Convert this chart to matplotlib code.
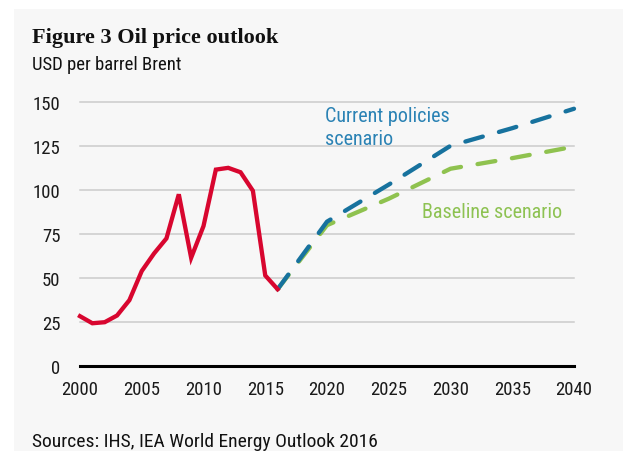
import matplotlib
matplotlib.use("Agg")
import logging
logging.getLogger("matplotlib.font_manager").setLevel(logging.ERROR)
import matplotlib.pyplot as plt
from matplotlib.patches import Rectangle

# Data
hist_years = [2000, 2001, 2002, 2003, 2004, 2005, 2006, 2007, 2008, 2009,
              2010, 2011, 2012, 2013, 2014, 2015, 2016]
hist_price = [28.4, 24.4, 25.0, 28.8, 37.5, 54.0, 64.0, 72.5, 97.5, 61.5,
              79.5, 111.5, 112.5, 110.0, 99.5, 51.5, 43.7]
scen_years = [2016, 2020, 2025, 2030, 2035, 2040]
current_policies = [43.7, 82, 103, 125, 135, 146]
baseline = [43.7, 80, 95, 112, 118, 124.5]
x_ticks = [2000, 2005, 2010, 2015, 2020, 2025, 2030, 2035, 2040]
y_ticks = [0, 25, 50, 75, 100, 125, 150]

W, H = 623, 452
fig = plt.figure(figsize=(W / 100, H / 100), dpi=100, facecolor="white")
fig.patches.append(Rectangle((14 / W, 0), 1 - 14 / W, 1 - 10 / H, transform=fig.transFigure,
                             facecolor="#f7f7f7", edgecolor="none", zorder=-10))

sans = ["Liberation Sans Narrow", "Arial Narrow", "Roboto Condensed", "Archivo Narrow", "DejaVu Sans"]
serif = ["Liberation Serif", "DejaVu Serif"]

ax = fig.add_axes([80 / W, 1 - 367.3 / H, (574 - 80) / W, (367.3 - 102.7) / H])
ax.set_facecolor("none")
ax.set_xlim(2000, 2040)
ax.set_ylim(0, 150)
for s in ax.spines.values():
    s.set_visible(False)
for y in y_ticks[1:]:
    ax.axhline(y, color="#cbcbcb", lw=1.1, zorder=1, clip_on=False)
ax.axhline(0, color="black", lw=2.2, zorder=2, clip_on=False)

red = "#d8062f"
blue = "#17729e"
green = "#8fc24f"
lw = 3.1
ax.plot(hist_years, hist_price, color=red, lw=lw, zorder=4, clip_on=False,
        solid_joinstyle="miter")
lb, = ax.plot(scen_years, baseline, color=green, lw=lw, zorder=3, clip_on=False,
              dash_capstyle="round")
lb.set_dashes([4.2, 3.9])
lc, = ax.plot(scen_years, current_policies, color=blue, lw=lw, zorder=3, clip_on=False,
              dash_capstyle="round")
lc.set_dashes([4.2, 3.9])

ax.set_xticks(x_ticks)
ax.set_yticks(y_ticks)
ax.set_xticklabels([str(t) for t in x_ticks], family=sans, fontsize=13.5)
ax.set_yticklabels([str(t) for t in y_ticks], family=sans, fontsize=13.5)
ax.tick_params(axis="both", length=0, colors="#1a1a1a")
ax.tick_params(axis="y", pad=14)
ax.tick_params(axis="x", pad=10)

ax.text(2019.84, 139.2, "Current policies", color="#2a82b4", family=sans,
        fontsize=14.5, va="baseline", ha="left")
ax.text(2019.84, 126.0, "scenario", color="#2a82b4", family=sans,
        fontsize=14.5, va="baseline", ha="left")
ax.text(2027.7, 84.5, "Baseline scenario", color="#8dc252", family=sans,
        fontsize=14.5, va="baseline", ha="left")

fig.text(32 / W, 1 - 43.3 / H, "Figure 3 Oil price outlook", family=serif,
         fontweight="bold", fontsize=16, va="baseline", ha="left", color="#111111")
fig.text(32 / W, 1 - 70 / H, "USD per barrel Brent", family=sans,
         fontsize=13.5, va="baseline", ha="left", color="#111111")
fig.text(32 / W, 1 - 446.7 / H, "Sources: IHS, IEA World Energy Outlook 2016", family=sans,
         fontsize=14, va="baseline", ha="left", color="#111111")

fig.savefig("out.png", dpi=100, facecolor="white")
